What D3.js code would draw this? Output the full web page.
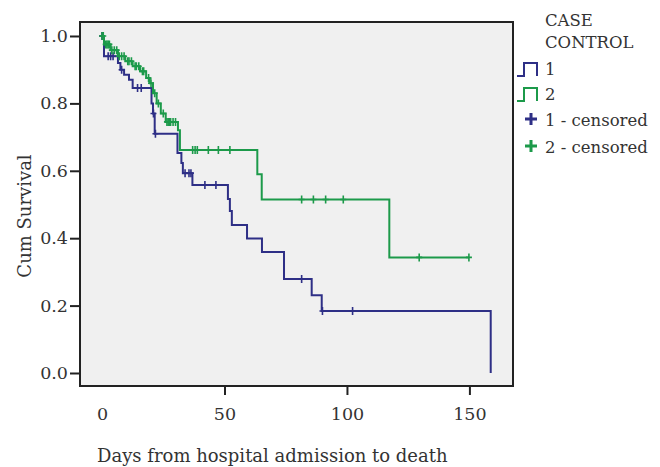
<!DOCTYPE html>
<html>
<head>
<meta charset="utf-8">
<script src="https://cdn.jsdelivr.net/npm/d3@7"></script>
<style>
    body { margin: 0; background: #fff; }
    svg text { font-family: "DejaVu Serif", serif; fill: #333; }
</style>
</head>
<body>
<div id="km"></div>
<script>
// Kaplan-Meier steps (time in days, survival after the drop)
const group1Times = [0, 0.8, 6.5, 7.5, 9, 11, 12.5, 20.2, 20.8, 21.5, 30.8, 32.4, 33, 36.9, 51.4, 52.2, 53, 59.2, 65.3, 74.3, 85.6, 89.7, 158.7];
const group1Surv = [1, 0.94, 0.92, 0.90, 0.885, 0.87, 0.846, 0.80, 0.77, 0.71, 0.653, 0.623, 0.593, 0.558, 0.516, 0.481, 0.439, 0.399, 0.359, 0.279, 0.231, 0.184, 0];
const group1Censored = [0, 2.5, 3.5, 4.5, 8, 14.5, 16, 21, 21.8, 33.9, 35.5, 36.3, 42, 46.5, 81.5, 90, 102.3];

const group2Times = [0, 0.8, 3.5, 6.5, 9.5, 12.5, 15.5, 18, 19.5, 20.8, 22.3, 24, 26, 31, 31.8, 63.4, 65.2, 117.3];
const group2Surv = [1, 0.975, 0.958, 0.94, 0.925, 0.91, 0.895, 0.875, 0.86, 0.83, 0.80, 0.77, 0.745, 0.72, 0.662, 0.59, 0.515, 0.343];
const group2Censored = [0, 0.5, 1.5, 2, 2.5, 3, 4, 5, 6, 7, 8, 9, 10.5, 11, 12, 13.5, 14, 15, 16.5, 17, 19, 20, 21.5, 23, 25, 26.5, 27, 27.5, 28, 29, 30, 37, 38, 38.9, 43.4, 47.5, 52.2, 81.5, 86.3, 91.3, 98.5, 129.5, 149.8];

const xTicks = [0, 50, 100, 150];
const yTicks = [0, 0.2, 0.4, 0.6, 0.8, 1.0];
const groupNames = ["1", "2"];
const colors = {"1": "#2e2f86", "2": "#1c9a4a"};

drawChart();

function drawChart() {
    let width = 660, height = 467;
    let frame = {left: 80, right: 513, top: 22, bottom: 386};

    let svg = d3.select("#km").append("svg")
        .attr("width", width)
        .attr("height", height);

    let x = d3.scaleLinear()
        .domain([-9, 167.8])
        .range([frame.left, frame.right]);
    let y = d3.scaleLinear()
        .domain([-0.0386, 1.0415])
        .range([frame.bottom, frame.top]);

    // plot area
    svg.append("rect")
        .attr("x", frame.left)
        .attr("y", frame.top)
        .attr("width", frame.right - frame.left)
        .attr("height", frame.bottom - frame.top)
        .attr("fill", "#f0f0f0");

    let groups = [
        {name: "1", times: group1Times, surv: group1Surv, cens: group1Censored},
        {name: "2", times: group2Times, surv: group2Surv, cens: group2Censored}
    ];

    groups.forEach(function(g) {
        // step path
        let pts = [];
        g.times.forEach(function(t, i) {
            pts.push([t, g.surv[i]]);
        });
        let last = d3.max(g.cens);
        if (last > g.times[g.times.length - 1]) pts.push([last, g.surv[g.surv.length - 1]]);

        let line = d3.line()
            .x(d => x(d[0]))
            .y(d => y(d[1]))
            .curve(d3.curveStepAfter);

        svg.append("path")
            .attr("d", line(pts))
            .attr("fill", "none")
            .attr("stroke", colors[g.name])
            .attr("stroke-width", 2);

        // censor marks
        let survAt = function(t) {
            let s = 1;
            g.times.forEach(function(tt, i) { if (tt <= t) s = g.surv[i]; });
            return s;
        };
        svg.append("g").selectAll("path")
            .data(g.cens)
            .enter()
            .append("path")
            .attr("transform", d => `translate(${x(d)},${y(survAt(d))})`)
            .attr("d", "M-3,0H3M0,-4V4")
            .attr("stroke", colors[g.name])
            .attr("stroke-width", 1.6)
            .attr("fill", "none");
    });

    // frame
    svg.append("rect")
        .attr("x", frame.left)
        .attr("y", frame.top)
        .attr("width", frame.right - frame.left)
        .attr("height", frame.bottom - frame.top)
        .attr("fill", "none")
        .attr("stroke", "#222")
        .attr("stroke-width", 2);

    // axes
    let yAxis = svg.append("g")
        .attr("transform", `translate(${frame.left},0)`)
        .call(d3.axisLeft(y).tickValues(yTicks).tickFormat(d3.format(".1f")).tickSize(10).tickPadding(2));
    let xAxis = svg.append("g")
        .attr("transform", `translate(0,${frame.bottom})`)
        .call(d3.axisBottom(x).tickValues(xTicks).tickSize(9).tickPadding(13));

    [xAxis, yAxis].forEach(function(a) {
        a.select(".domain").remove();
        a.selectAll(".tick line").attr("stroke", "#222").attr("stroke-width", 2);
        a.selectAll(".tick text")
            .style("font-family", "DejaVu Serif")
            .style("font-size", "17.5px")
            .attr("fill", "#333");
    });
    xAxis.selectAll(".tick line").filter(d => d === 0).remove();

    // axis titles
    svg.append("text")
        .attr("x", 97)
        .attr("y", 462)
        .style("font-size", "18px")
        .text("Days from hospital admission to death");
    svg.append("text")
        .attr("transform", "translate(31,216) rotate(-90)")
        .attr("text-anchor", "middle")
        .style("font-size", "18px")
        .text("Cum Survival");

    // legend
    let legend = svg.append("g");
    legend.append("text").attr("x", 545).attr("y", 26).style("font-size", "16.5px").text("CASE");
    legend.append("text").attr("x", 545).attr("y", 48).style("font-size", "16.5px").text("CONTROL");

    groupNames.forEach(function(n, i) {
        let yy = 76 + i * 25;
        legend.append("path")
            .attr("d", `M517,${yy}H524V${yy - 13}H537V${yy}`)
            .attr("fill", "none")
            .attr("stroke", colors[n])
            .attr("stroke-width", 2);
        legend.append("text").attr("x", 545).attr("y", yy - 1).style("font-size", "16.5px").text(n);

        let cy = 119 + i * 27;
        legend.append("path")
            .attr("d", `M${525},${cy}H${537}M531,${cy - 6}V${cy + 6}`)
            .attr("stroke", colors[n])
            .attr("stroke-width", 3);
        legend.append("text").attr("x", 545).attr("y", cy + 7).style("font-size", "16.5px").text(n + " - censored");
    });
}
</script>
</body>
</html>
